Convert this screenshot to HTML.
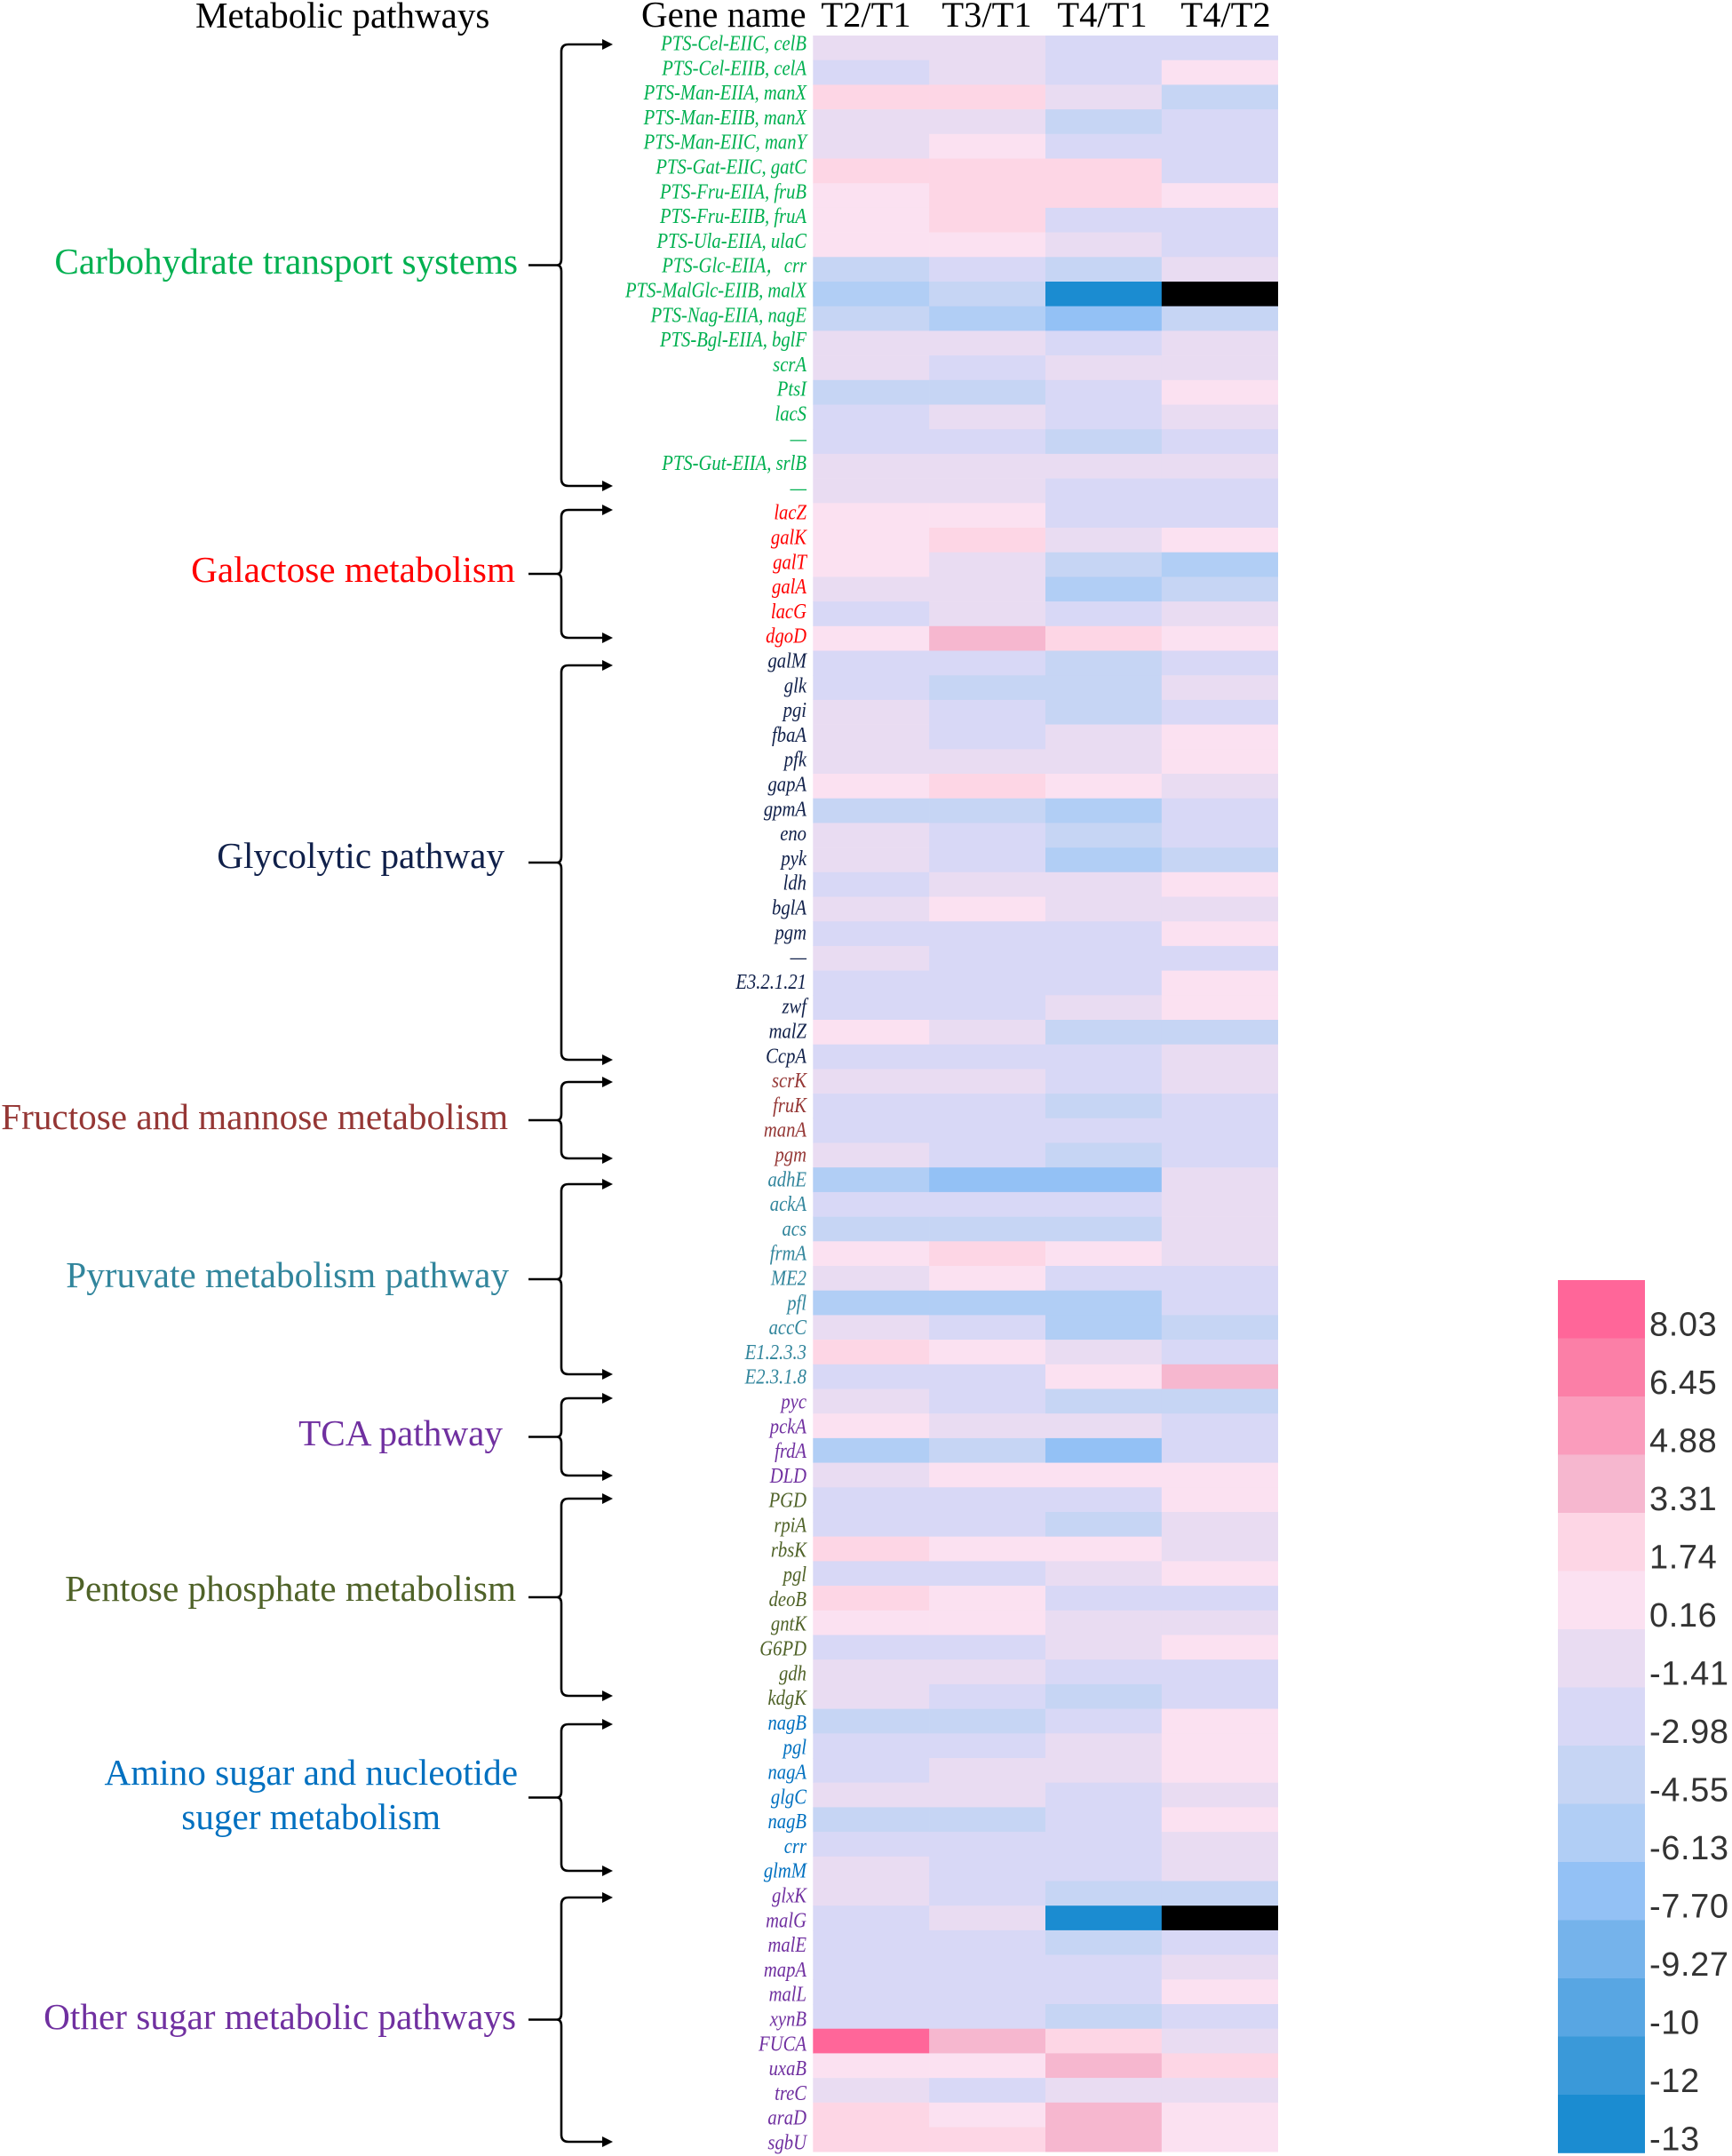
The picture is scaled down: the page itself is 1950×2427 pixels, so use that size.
<!DOCTYPE html>
<html lang="en">
<head>
<meta charset="utf-8">
<title>Sugar metabolism gene expression heatmap</title>
<style>
html,body{margin:0;padding:0;background:#fff;}
#chart{display:block;width:1950px;height:2427px;}
text{font-family:"Liberation Serif","Noto Serif CJK SC",serif;}
.lg{font-family:"Liberation Sans",sans-serif;fill:#333;font-size:38px;letter-spacing:0.6px;}
</style>
</head>
<body>
<svg id="chart" xmlns="http://www.w3.org/2000/svg" width="1950" height="2427" viewBox="0 0 1950 2427">
<rect x="0" y="0" width="1950" height="2427" fill="#fff"/>
<text x="220" y="31" font-size="41" fill="#000">Metabolic pathways</text>
<text x="722" y="30" font-size="41" fill="#000">Gene name</text>
<g id="cols"></g><g id="cells"></g><g id="genes"></g><g id="paths"></g><g id="braces"></g><g id="legend"></g>
</svg>
<script>
const columnNames = ["T2/T1","T3/T1","T4/T1","T4/T2"];
const groupNames = ["Carbohydrate transport systems","Galactose metabolism","Glycolytic pathway","Fructose and mannose metabolism","Pyruvate metabolism pathway","TCA pathway","Pentose phosphate metabolism","Amino sugar and nucleotide|suger metabolism","Other sugar metabolic pathways"];
const groupSizes = [19,6,17,4,9,4,9,7,11];
const groupColors = ["#00b050","#ff0000","#10204a","#953735","#31859c","#7030a0","#4f6228","#0070c0","#7030a0"];
const geneNames = [
"PTS-Cel-EIIC, celB","PTS-Cel-EIIB, celA","PTS-Man-EIIA, manX","PTS-Man-EIIB, manX","PTS-Man-EIIC, manY","PTS-Gat-EIIC, gatC","PTS-Fru-EIIA, fruB","PTS-Fru-EIIB, fruA","PTS-Ula-EIIA, ulaC","PTS-Glc-EIIA，crr","PTS-MalGlc-EIIB, malX","PTS-Nag-EIIA, nagE","PTS-Bgl-EIIA, bglF","scrA","PtsI","lacS","—","PTS-Gut-EIIA, srlB","—",
"lacZ","galK","galT","galA","lacG","dgoD",
"galM","glk","pgi","fbaA","pfk","gapA","gpmA","eno","pyk","ldh","bglA","pgm","—","E3.2.1.21","zwf","malZ","CcpA",
"scrK","fruK","manA","pgm",
"adhE","ackA","acs","frmA","ME2","pfl","accC","E1.2.3.3","E2.3.1.8",
"pyc","pckA","frdA","DLD",
"PGD","rpiA","rbsK","pgl","deoB","gntK","G6PD","gdh","kdgK",
"nagB","pgl","nagA","glgC","nagB","crr","glmM",
"glxK","malG","malE","mapA","malL","xynB","FUCA","uxaB","treC","araD","sgbU"];
const valuesT2T1 = [
-0.6,-2.2,2.5,-0.6,-0.6,2.5,0.9,0.9,0.9,-3.8,-5.3,-3.8,-0.6,-0.6,-3.8,-2.2,-2.2,-0.6,-0.6,
0.9,0.9,0.9,-0.6,-2.2,0.9,
-2.2,-2.2,-0.6,-0.6,-0.6,0.9,-3.8,-0.6,-0.6,-2.2,-0.6,-2.2,-0.6,-2.2,-2.2,0.9,-2.2,
-0.6,-2.2,-2.2,-0.6,
-5.3,-2.2,-3.8,0.9,-0.6,-5.3,-0.6,2.5,-2.2,
-0.6,0.9,-5.3,-0.6,
-2.2,-2.2,2.5,-2.2,2.5,0.9,-2.2,-0.6,-0.6,
-3.8,-2.2,-2.2,-0.6,-3.8,-2.2,-0.6,
-0.6,-2.2,-2.2,-2.2,-2.2,-2.2,8.5,0.9,-0.6,2.5,2.5];
const valuesT3T1 = [
-0.6,-0.6,2.5,-0.6,0.9,2.5,2.5,2.5,0.9,-2.2,-3.8,-5.3,-0.6,-2.2,-3.8,-0.6,-2.2,-0.6,-0.6,
0.9,2.5,-0.6,-0.6,-0.6,4,
-2.2,-3.8,-2.2,-2.2,-0.6,2.5,-3.8,-2.2,-2.2,-0.6,0.9,-2.2,-2.2,-2.2,-2.2,-0.6,-2.2,
-0.6,-2.2,-2.2,-2.2,
-7,-2.2,-3.8,2.5,0.9,-5.3,-2.2,0.9,-2.2,
-2.2,-0.6,-3.8,0.9,
-2.2,-2.2,0.9,-2.2,0.9,0.9,-2.2,-0.6,-2.2,
-3.8,-2.2,-0.6,-0.6,-3.8,-2.2,-2.2,
-2.2,-0.6,-2.2,-2.2,-2.2,-2.2,4,0.9,-2.2,0.9,2.5];
const valuesT4T1 = [
-2.2,-2.2,-0.6,-3.8,-2.2,2.5,2.5,-2.2,-0.6,-3.8,-12.8,-7,-2.2,-0.6,-2.2,-2.2,-3.8,-0.6,-2.2,
-2.2,-0.6,-3.8,-5.3,-2.2,2.5,
-3.8,-3.8,-3.8,-0.6,-0.6,0.9,-5.3,-3.8,-5.3,-0.6,-0.6,-2.2,-2.2,-2.2,-0.6,-3.8,-2.2,
-2.2,-3.8,-2.2,-3.8,
-7,-2.2,-3.8,0.9,-2.2,-5.3,-5.3,-0.6,0.9,
-3.8,-0.6,-7,0.9,
-2.2,-3.8,0.9,-0.6,-2.2,-0.6,-0.6,-2.2,-3.8,
-2.2,-0.6,-0.6,-2.2,-2.2,-2.2,-2.2,
-3.8,-12.8,-3.8,-2.2,-2.2,-3.8,2.5,4,-0.6,4,4];
const valuesT4T2 = [
-2.2,0.9,-3.8,-2.2,-2.2,-2.2,0.9,-2.2,-2.2,-0.6,null,-3.8,-0.6,-0.6,0.9,-0.6,-2.2,-0.6,-2.2,
-2.2,0.9,-5.3,-3.8,-0.6,0.9,
-2.2,-0.6,-2.2,0.9,0.9,-0.6,-2.2,-2.2,-3.8,0.9,-0.6,0.9,-2.2,0.9,0.9,-3.8,-0.6,
-0.6,-2.2,-2.2,-2.2,
-0.6,-0.6,-0.6,-0.6,-2.2,-2.2,-3.8,-2.2,4,
-3.8,-2.2,-2.2,0.9,
0.9,-0.6,-0.6,0.9,-2.2,-0.6,0.9,-2.2,-2.2,
0.9,0.9,0.9,-0.6,0.9,-0.6,-0.6,
-3.8,null,-2.2,-0.6,0.9,-2.2,-0.6,2.5,-0.6,0.9,0.9];
const legendLabels = ["8.03","6.45","4.88","3.31","1.74","0.16","-1.41","-2.98","-4.55","-6.13","-7.70","-9.27","-10","-12","-13"];
const binFloors = [8.03,6.45,4.88,3.31,1.74,0.16,-1.41,-2.98,-4.55,-6.13,-7.70,-9.27,-10.84,-12.41,-13.98];
const binColors = ["#ff6699","#fb7fa7","#fa9cbc","#f6b7cf","#fdd6e5","#fbe1f1","#e9dcf2","#d8d8f6","#c6d5f4","#b1cef5","#93c1f5","#75b3eb","#58a6e3","#3a99d9","#1b8cd1"];

const NS = "http://www.w3.org/2000/svg";
const plotLeft = 915.3, plotTop = 40, colW = 130.85, rowH = 27.7;
const xScale = c => plotLeft + c * colW;
const yScale = r => plotTop + r * rowH;
const labelBaseline = r => 56.5 + r * 27.8;
function colorFor(v){
  if (v === null) return "#000000";
  for (let i = 0; i < binFloors.length; i++) if (v >= binFloors[i]) return binColors[i];
  return binColors[binColors.length - 1];
}
function mk(tag, attrs, parent, txt){
  const e = document.createElementNS(NS, tag);
  for (const k in attrs) e.setAttribute(k, attrs[k]);
  if (txt !== undefined) e.textContent = txt;
  parent.appendChild(e);
  return e;
}
const colsG = document.getElementById("cols");
const cellsG = document.getElementById("cells");
const genesG = document.getElementById("genes");
const pathsG = document.getElementById("paths");
const bracesG = document.getElementById("braces");
const legendG = document.getElementById("legend");

const headerCenters = [975,1111,1241,1380];
columnNames.forEach((n, c) => {
  const t = mk("text", {x: headerCenters[c], y: 30, "font-size": 40.5, "text-anchor": "middle", fill: "#000"}, colsG, n);
  
  
});

const allSeries = [valuesT2T1, valuesT3T1, valuesT4T1, valuesT4T2];
allSeries.forEach((vals, c) => {
  vals.forEach((v, r) => {
    const cell = mk("rect", {x: xScale(c), y: yScale(r), width: colW + 0.3, height: rowH + 0.3, fill: colorFor(v)}, cellsG);
    
    
  });
});

let rowIndex = 0;
groupSizes.forEach((size, g) => {
  for (let i = 0; i < size; i++) {
    const y = labelBaseline(rowIndex);
    const lab = mk("text", {transform: "translate(908," + y + ") scale(0.86,1)", "font-size": 24, "font-style": "italic", "text-anchor": "end", fill: groupColors[g]}, genesG, geneNames[rowIndex]);
    
    
    rowIndex++;
  }
});

const pathLabelRight = [583,580,568,572,573,566,581,583,581];
const pathLabelBase = [308,655,977,1271,1449,1627,1802,2009,2284];
groupNames.forEach((n, g) => {
  const lines = n.split("|");
  lines.forEach((ln, j) => {
    const x = j === 0 ? pathLabelRight[g] : 496;
    const t = mk("text", {x: x, y: pathLabelBase[g] + j * 50, "font-size": 41.2, "text-anchor": "end", fill: groupColors[g]}, pathsG, ln);
    
    
  });
});

function brace(top, bottom){
  const mid = (top + bottom) / 2;
  const tr = 632, r = 8;
  const d = "M595," + mid + " H" + (tr - 5) + " Q" + tr + "," + mid + " " + tr + "," + (mid - 7) +
    " V" + (top + r) + " Q" + tr + "," + top + " " + (tr + r) + "," + top + " H679" +
    " M595," + mid + " H" + (tr - 5) + " Q" + tr + "," + mid + " " + tr + "," + (mid + 7) +
    " V" + (bottom - r) + " Q" + tr + "," + bottom + " " + (tr + r) + "," + bottom + " H679";
  const p = mk("path", {d: d, fill: "none", stroke: "#000", "stroke-width": 2.6}, bracesG);
  
  
  [top, bottom].forEach(y => {
    const a = mk("polygon", {points: "678," + (y - 6) + " 690," + y + " 678," + (y + 6), fill: "#000"}, bracesG);
    
    
  });
}
brace(50,547);brace(574,718);brace(749,1193);brace(1218,1304);brace(1333,1547);brace(1574,1661);brace(1687,1909);brace(1941,2106);brace(2136,2411);

const legTop = 1441, legH = 65.5, legX = 1754, legW = 98;
legendLabels.forEach((lab, i) => {
  const b = mk("rect", {x: legX, y: legTop + i * legH, width: legW, height: legH + 0.3, fill: binColors[i]}, legendG);
  
  
  const t = mk("text", {x: 1857, y: legTop + (i + 1) * legH - 3, "class": "lg"}, legendG, lab);
  
  
});
</script>
</body>
</html>
